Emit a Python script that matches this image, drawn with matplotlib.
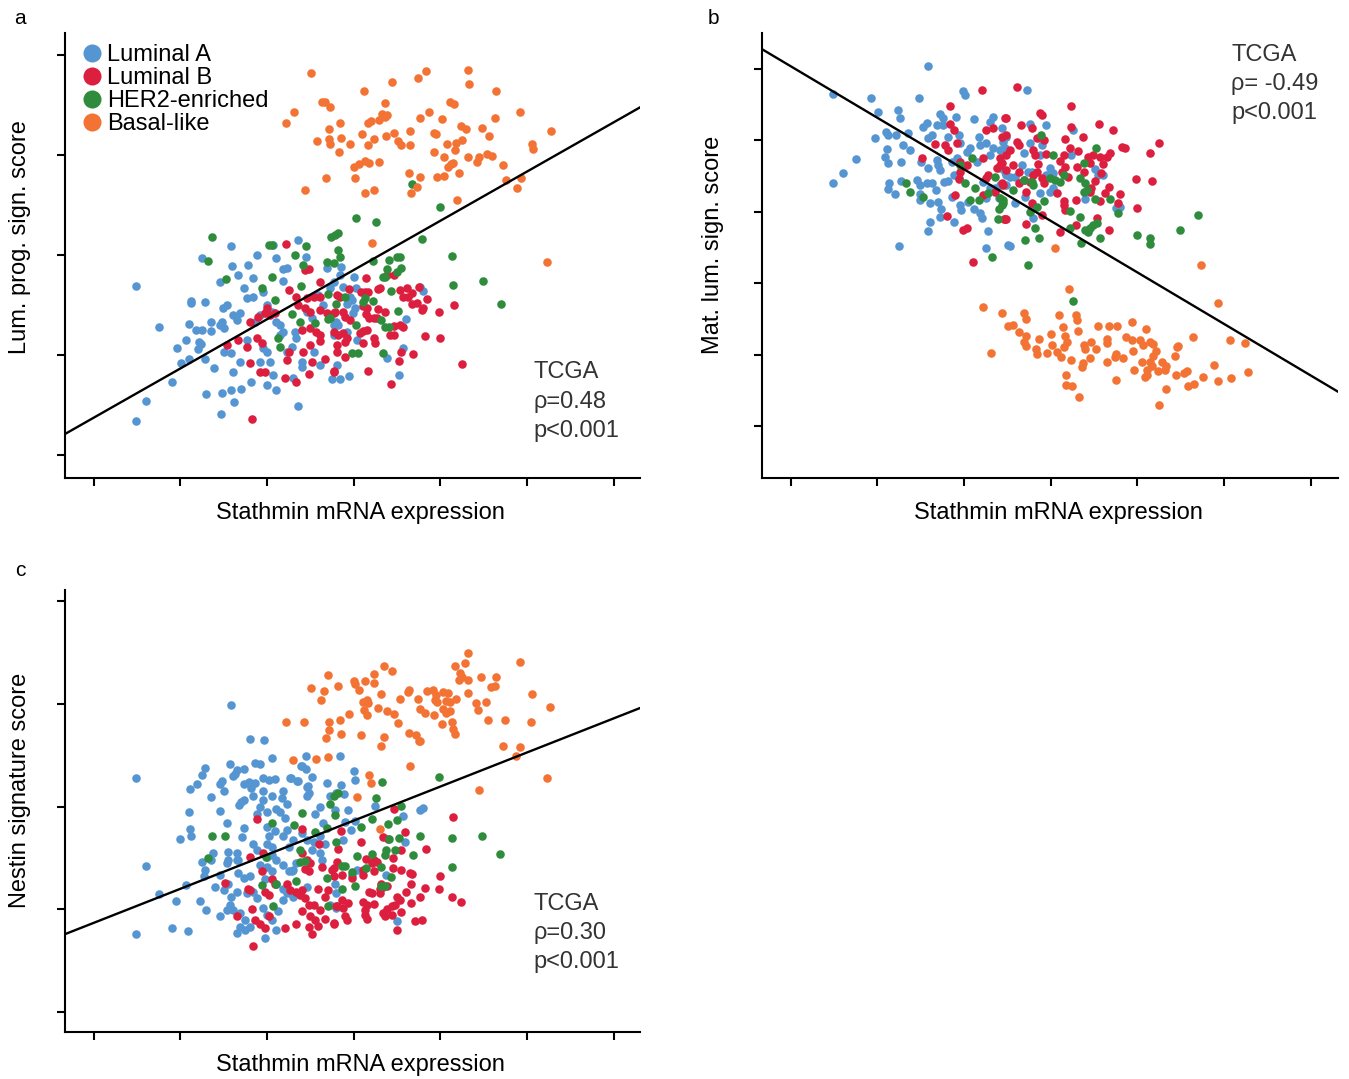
import numpy as np
import matplotlib
matplotlib.use("Agg")
import matplotlib.pyplot as plt
from matplotlib.lines import Line2D

plt.rcParams['font.family'] = ['Liberation Sans', 'DejaVu Sans']

subtypes = ['Luminal A', 'Luminal B', 'HER2-enriched', 'Basal-like']
colors = ['#5596d2', '#dc1e3f', '#2f8c3d', '#f37334']

# ---- a: luminal progenitor signature vs stathmin (x, y) ----
a_luma = [(0.49, 1.69), (0.75, 1.28), (0.91, 0.73), (0.61, 0.54), (0.49, 0.34), (1.01, 0.92), (1.10, 0.96),
          (0.96, 1.07), (1.07, 1.15), (1.10, 1.31), (1.12, 1.52), (1.13, 1.54), (1.29, 1.53), (1.25, 1.97),
          (1.18, 1.25), (1.25, 1.25), (1.22, 1.13), (1.24, 1.11), (1.20, 1.06), (1.29, 0.96), (1.39, 0.87),
          (1.30, 0.61), (1.35, 1.33), (1.36, 1.24), (1.46, 1.30), (1.48, 1.33), (1.50, 1.27), (1.49, 1.47),
          (1.54, 1.50), (1.50, 1.03), (1.46, 1.73), (1.48, 0.62), (1.47, 0.41), (1.58, 0.65), (1.62, 0.53),
          (1.70, 0.66), (1.60, 1.89), (1.67, 1.80), (1.78, 1.90), (1.88, 2.00), (1.58, 2.09), (2.10, 1.97),
          (2.07, 2.10), (2.36, 2.15), (2.19, 1.86), (2.23, 1.87), (2.19, 1.74), (1.84, 1.77), (1.73, 1.67),
          (1.77, 1.57), (1.84, 1.58), (1.96, 1.63), (1.61, 1.40), (1.65, 1.35), (1.69, 1.42), (1.77, 1.15),
          (1.59, 1.02), (1.69, 0.93), (1.61, 0.83), (1.82, 0.73), (1.92, 0.93), (2.04, 0.93), (2.00, 0.70),
          (2.11, 0.65), (2.07, 0.80), (1.96, 1.07), (2.00, 1.03), (2.15, 1.20), (2.19, 1.23), (2.23, 1.03),
          (2.29, 1.08), (2.34, 1.17), (2.32, 1.23), (2.30, 0.77), (2.40, 0.93), (2.41, 0.88), (2.54, 1.03),
          (2.61, 0.90), (2.75, 0.76), (2.84, 0.76), (2.36, 0.49), (2.45, 1.98), (2.69, 1.87), (2.77, 1.73),
          (2.59, 1.60), (2.65, 1.50), (2.46, 1.43), (2.52, 1.37), (2.00, 1.50), (2.06, 1.43), (2.11, 1.33),
          (2.15, 1.30), (1.92, 1.40), (1.86, 1.33), (2.77, 1.20), (2.80, 1.33), (2.86, 1.88), (2.84, 1.80),
          (3.01, 1.78), (2.73, 1.67), (2.88, 1.68), (3.03, 1.67), (2.96, 1.58), (2.98, 1.55), (2.92, 1.51),
          (3.02, 1.47), (2.99, 1.42), (3.76, 1.68), (3.80, 1.64), (3.60, 1.36), (2.77, 1.30), (2.82, 1.30),
          (2.92, 1.23), (3.04, 1.15), (3.57, 1.07), (3.38, 0.97), (2.81, 0.90), (2.95, 0.79), (3.52, 0.80)]
a_lumb = [(2.22, 2.11), (2.44, 1.85), (2.48, 1.86), (2.26, 1.65), (2.61, 1.73), (2.00, 1.47), (1.98, 1.42),
          (2.04, 1.40), (2.09, 1.42), (1.90, 1.38), (1.81, 1.33), (2.34, 1.58), (2.46, 1.57), (2.54, 1.58),
          (2.61, 1.58), (2.36, 1.50), (2.44, 1.47), (2.50, 1.43), (2.61, 1.45), (2.69, 1.42), (2.77, 1.42),
          (2.40, 1.25), (2.50, 1.27), (2.57, 1.23), (2.61, 1.20), (2.77, 1.23), (1.67, 1.15), (1.54, 1.10),
          (1.77, 1.08), (1.88, 1.17), (1.94, 1.12), (2.50, 1.10), (2.61, 1.14), (2.25, 1.03), (2.42, 1.03),
          (1.81, 0.92), (1.92, 0.83), (1.98, 0.83), (2.23, 0.95), (2.52, 0.93), (2.67, 0.96), (2.48, 0.81),
          (2.77, 0.83), (2.21, 0.77), (2.34, 0.73), (1.83, 0.36), (3.14, 1.77), (3.46, 1.80), (3.38, 1.80),
          (2.95, 1.66), (3.09, 1.63), (3.13, 1.63), (3.17, 1.63), (3.28, 1.66), (3.30, 1.67), (2.81, 1.60),
          (2.84, 1.58), (3.53, 1.65), (3.61, 1.67), (3.67, 1.62), (3.63, 1.58), (3.57, 1.58), (3.75, 1.68),
          (3.85, 1.56), (3.67, 1.51), (3.73, 1.52), (3.79, 1.45), (3.80, 1.47), (4.16, 1.50), (3.99, 1.43),
          (3.11, 1.49), (3.16, 1.47), (3.28, 1.46), (3.36, 1.43), (2.79, 1.43), (2.88, 1.43), (2.90, 1.38),
          (3.14, 1.41), (3.18, 1.37), (3.23, 1.37), (3.27, 1.37), (2.96, 1.35), (3.46, 1.29), (3.54, 1.30),
          (3.57, 1.28), (3.07, 1.22), (3.11, 1.24), (3.16, 1.25), (2.82, 1.20), (2.88, 1.22), (2.92, 1.17),
          (3.42, 1.20), (3.46, 1.20), (3.23, 1.17), (3.25, 1.12), (3.11, 1.12), (2.90, 1.13), (2.81, 1.10),
          (2.81, 1.03), (3.82, 1.19), (4.00, 1.17), (3.55, 1.03), (3.68, 1.01), (3.52, 0.94), (2.90, 0.98),
          (3.17, 0.84), (4.25, 0.91), (3.43, 0.71), (2.77, 0.84)]
a_her2 = [(1.37, 2.18), (1.32, 1.94), (1.53, 1.76), (2.02, 2.10), (2.06, 2.10), (2.45, 2.09), (2.32, 2.00),
          (2.42, 1.90), (2.06, 1.78), (1.94, 1.67), (2.39, 1.69), (2.09, 1.55), (2.29, 1.41), (2.38, 1.33),
          (2.56, 1.32), (2.70, 1.36), (2.71, 1.61), (2.80, 1.51), (2.13, 1.17), (2.15, 1.08), (2.74, 2.18),
          (2.79, 2.20), (2.82, 2.22), (2.69, 1.93), (2.77, 1.92), (2.82, 2.05), (2.84, 1.98), (3.79, 2.16),
          (4.14, 1.99), (4.49, 1.74), (4.70, 1.51), (4.15, 1.70), (3.41, 1.95), (3.50, 1.98), (3.53, 1.98),
          (3.38, 1.86), (3.22, 1.94), (3.34, 1.78), (3.36, 1.78), (3.50, 1.83), (3.55, 1.87), (3.43, 1.64),
          (3.22, 1.54), (3.11, 1.53), (3.13, 1.57), (2.90, 1.58), (3.51, 1.44), (3.32, 1.35), (3.36, 1.28),
          (3.41, 1.28), (3.03, 1.30), (2.98, 1.02), (3.05, 1.02), (3.34, 1.02), (2.73, 1.37), (3.67, 2.71),
          (4.00, 2.48), (3.26, 2.33), (3.03, 2.37)]
a_basal = [(2.51, 3.82), (3.84, 3.84), (3.74, 3.77), (4.32, 3.85), (4.33, 3.71), (3.44, 3.73), (3.12, 3.64),
           (4.64, 3.64), (2.64, 3.53), (2.67, 3.53), (2.73, 3.48), (3.36, 3.52), (4.11, 3.53), (4.16, 3.51),
           (2.31, 3.43), (2.22, 3.32), (2.84, 3.32), (3.17, 3.32), (3.20, 3.34), (3.29, 3.35), (3.33, 3.41),
           (3.36, 3.38), (3.39, 3.40), (3.87, 3.43), (3.77, 3.37), (4.02, 3.36), (4.92, 3.43), (4.63, 3.37),
           (2.72, 3.26), (3.10, 3.21), (3.47, 3.22), (3.65, 3.24), (3.37, 3.19), (3.93, 3.22), (3.95, 3.21),
           (4.24, 3.29), (4.30, 3.26), (4.48, 3.27), (5.28, 3.24), (2.58, 3.14), (2.72, 3.16), (2.73, 3.11),
           (2.85, 3.17), (2.96, 3.11), (3.17, 3.10), (3.24, 3.16), (3.51, 3.14), (3.55, 3.10), (3.65, 3.10),
           (4.08, 3.11), (4.18, 3.12), (4.25, 3.15), (4.17, 3.05), (4.56, 3.19), (5.06, 3.11), (5.07, 3.06),
           (2.83, 3.03), (3.93, 3.03), (4.04, 2.98), (4.32, 2.98), (4.45, 2.98), (4.42, 2.93), (4.54, 3.01),
           (4.60, 2.99), (3.00, 2.88), (3.06, 2.91), (3.13, 2.94), (3.18, 2.92), (3.29, 2.93), (4.09, 2.88),
           (4.12, 2.91), (4.15, 2.92), (4.72, 2.90), (2.68, 2.77), (3.02, 2.77), (3.64, 2.82), (3.77, 2.78),
           (3.96, 2.78), (4.04, 2.79), (4.22, 2.82), (4.76, 2.75), (4.93, 2.77), (2.44, 2.65), (3.13, 2.62),
           (3.24, 2.65), (3.66, 2.62), (3.73, 2.68), (4.88, 2.67), (4.19, 2.55), (5.23, 1.93), (3.21, 2.12)]
a_fit = (0.372, 0.4925)   # intercept, slope
a_stats = 'TCGA\nρ=0.48\np<0.001'

# ---- b: mature luminal signature vs stathmin ----
b_luma = [(1.59, 5.04), (0.49, 4.65), (0.93, 4.59), (1.48, 4.60), (1.99, 4.69), (2.01, 4.63), (1.01, 4.40),
          (1.24, 4.42), (1.26, 4.32), (0.97, 4.03), (1.10, 4.12), (1.13, 4.08), (1.22, 4.08), (1.36, 4.10),
          (1.30, 3.94), (1.38, 3.87), (1.11, 3.88), (1.09, 3.77), (1.13, 3.69), (1.28, 3.70), (0.76, 3.74),
          (0.61, 3.55), (0.49, 3.40), (1.14, 3.40), (1.13, 3.32), (1.21, 3.25), (1.28, 3.43), (1.46, 3.45),
          (1.49, 3.38), (1.57, 3.41), (1.63, 3.40), (1.49, 3.25), (1.49, 3.16), (1.68, 3.30), (1.61, 3.12),
          (1.70, 3.14), (1.74, 3.04), (1.53, 4.19), (1.57, 4.24), (1.72, 4.37), (1.76, 4.31), (1.91, 4.33),
          (2.12, 4.30), (1.63, 4.08), (1.59, 4.03), (1.82, 4.05), (1.69, 4.22), (1.76, 4.22), (1.51, 3.70),
          (1.58, 3.62), (1.69, 3.73), (1.70, 3.66), (1.77, 3.42), (1.82, 3.43), (1.72, 3.59), (1.86, 3.70),
          (1.92, 3.75), (1.94, 4.08), (1.95, 3.97), (2.03, 3.84), (2.07, 3.89), (2.17, 4.05), (2.19, 3.94),
          (2.26, 3.96), (2.15, 3.70), (1.88, 3.52), (1.94, 3.47), (1.86, 3.21), (1.95, 3.10), (1.97, 3.03),
          (2.05, 3.14), (2.12, 3.04), (2.19, 2.98), (2.21, 2.91), (1.61, 2.86), (1.72, 2.93), (1.89, 2.86),
          (1.58, 2.73), (2.28, 2.73), (1.25, 2.52), (2.26, 2.50), (2.51, 2.53), (2.22, 3.42), (2.30, 3.33),
          (2.36, 3.33), (2.40, 3.19), (2.26, 3.19), (2.34, 4.33), (2.30, 4.26), (2.44, 4.17), (2.45, 3.98),
          (2.34, 3.89), (2.42, 3.87), (2.49, 3.52), (2.30, 3.80), (2.73, 4.71), (2.76, 4.23), (2.95, 4.21),
          (3.26, 4.15), (2.49, 4.05), (2.76, 3.96), (2.90, 3.94), (2.44, 3.87), (2.47, 3.89), (2.69, 3.82),
          (2.88, 3.80), (3.24, 3.80), (2.42, 3.61), (2.47, 3.56), (2.53, 3.49), (2.59, 3.49), (2.67, 3.66),
          (2.74, 3.56), (2.78, 3.56), (2.99, 3.61), (2.95, 3.52), (3.03, 3.54), (3.51, 3.60), (3.55, 3.52),
          (3.60, 3.52), (2.42, 3.38), (2.49, 3.38), (2.59, 3.12), (2.70, 3.21), (2.88, 3.26), (2.99, 3.28),
          (3.03, 3.33), (2.78, 3.05), (2.80, 2.91), (3.40, 3.18), (3.76, 3.05), (3.80, 3.07), (2.53, 2.52)]
b_lumb = [(2.21, 4.70), (1.84, 4.48), (1.84, 4.23), (1.88, 4.15), (1.67, 3.95), (1.78, 3.93), (1.82, 3.87),
          (1.92, 3.97), (1.52, 3.75), (1.95, 3.70), (2.03, 3.66), (1.95, 3.56), (1.94, 3.46), (2.22, 3.75),
          (2.25, 4.15), (2.34, 4.17), (2.44, 4.05), (2.47, 4.31), (2.49, 4.08), (2.42, 3.75), (2.44, 3.68),
          (2.38, 3.61), (2.28, 3.52), (2.26, 3.47), (2.44, 3.40), (2.49, 3.59), (1.90, 3.23), (2.22, 3.23),
          (2.36, 3.28), (2.47, 2.90), (1.81, 2.94), (1.99, 2.75), (2.03, 2.78), (2.10, 2.30), (2.61, 4.75),
          (3.24, 4.48), (2.88, 4.39), (2.90, 4.35), (2.49, 4.31), (2.66, 4.22), (2.78, 4.17), (3.24, 4.19),
          (3.56, 4.23), (3.72, 4.15), (4.25, 3.96), (3.82, 3.91), (3.86, 3.90), (4.15, 3.82), (2.61, 3.98),
          (2.63, 3.94), (2.84, 4.03), (2.92, 4.01), (3.17, 4.02), (3.37, 4.05), (3.22, 3.89), (3.32, 3.85),
          (2.53, 3.87), (2.49, 3.80), (2.80, 3.87), (2.82, 3.80), (2.95, 3.81), (3.15, 3.79), (3.11, 3.71),
          (3.43, 3.77), (3.49, 3.80), (3.57, 3.77), (3.65, 3.77), (3.69, 3.83), (3.45, 3.68), (3.61, 3.67),
          (2.42, 3.66), (2.57, 3.66), (2.63, 3.56), (2.86, 3.67), (3.17, 3.63), (3.13, 3.56), (3.30, 3.63),
          (3.38, 3.56), (3.58, 3.54), (2.80, 3.52), (2.84, 3.56), (2.69, 3.45), (2.76, 3.42), (2.90, 3.47),
          (2.92, 3.40), (3.20, 3.49), (2.63, 3.40), (3.99, 3.46), (4.17, 3.43), (2.45, 3.38), (2.72, 3.28),
          (3.07, 3.26), (3.51, 3.43), (3.47, 3.33), (3.45, 3.28), (3.67, 3.35), (3.63, 3.27), (3.80, 3.25),
          (3.78, 3.12), (3.29, 3.17), (3.15, 3.15), (3.15, 3.09), (3.57, 3.15), (2.78, 3.12), (3.17, 3.03),
          (4.00, 3.06), (2.90, 2.96), (2.46, 2.90), (2.49, 2.90), (2.72, 2.83), (3.53, 2.91), (3.29, 2.81),
          (3.67, 2.75), (3.11, 2.72)]
b_her2 = [(1.33, 3.40), (1.38, 3.28), (1.53, 3.21), (1.95, 3.66), (2.09, 3.75), (2.01, 3.41), (2.13, 3.34),
          (2.07, 3.17), (2.17, 3.16), (2.36, 3.49), (2.28, 3.26), (2.42, 3.19), (2.45, 3.12), (2.40, 3.04),
          (2.39, 2.90), (2.32, 2.36), (2.89, 4.07), (3.03, 3.79), (3.52, 3.90), (3.38, 3.68), (2.99, 3.47),
          (3.05, 3.45), (3.11, 3.42), (3.15, 3.52), (2.69, 3.45), (2.78, 3.42), (2.80, 3.38), (3.34, 3.47),
          (3.40, 3.40), (3.42, 3.31), (3.38, 3.28), (2.92, 3.15), (2.57, 3.31), (3.51, 3.18), (3.69, 3.18),
          (2.45, 3.17), (2.44, 3.10), (2.84, 3.07), (2.76, 3.00), (3.22, 3.01), (3.78, 2.99), (3.34, 2.93),
          (4.70, 2.96), (3.49, 2.82), (3.53, 2.84), (3.45, 2.78), (3.40, 2.75), (3.43, 2.72), (3.22, 2.77),
          (2.82, 2.77), (2.87, 2.63), (2.71, 2.61), (3.57, 2.64), (3.35, 2.56), (4.00, 2.68), (4.15, 2.63),
          (4.15, 2.55), (4.49, 2.75), (2.74, 2.25), (3.26, 1.75)]
b_basal = [(3.05, 2.50), (4.73, 2.26), (3.21, 1.92), (2.22, 1.67), (2.44, 1.58), (2.69, 1.58), (2.72, 1.50),
           (3.10, 1.56), (3.29, 1.55), (3.31, 1.48), (4.93, 1.72), (2.51, 1.40), (2.57, 1.41), (2.63, 1.32),
           (3.14, 1.39), (3.32, 1.33), (3.55, 1.40), (3.67, 1.40), (3.77, 1.40), (3.94, 1.45), (4.10, 1.36),
           (2.72, 1.26), (2.69, 1.18), (2.72, 1.12), (2.87, 1.22), (3.00, 1.29), (3.17, 1.26), (3.19, 1.17),
           (3.15, 1.11), (3.02, 1.13), (2.83, 1.08), (2.84, 1.01), (2.96, 1.02), (3.07, 1.03), (3.12, 0.97),
           (3.24, 0.93), (2.31, 1.02), (3.38, 1.13), (3.40, 1.08), (3.47, 1.17), (3.52, 1.08), (3.65, 1.22),
           (3.65, 1.16), (3.45, 0.95), (3.37, 0.88), (3.36, 0.82), (3.65, 0.90), (3.74, 0.97), (3.76, 1.01),
           (3.84, 0.95), (3.87, 1.24), (3.94, 1.20), (4.03, 1.21), (4.06, 1.13), (3.95, 1.05), (4.15, 1.18),
           (4.18, 1.15), (4.22, 1.05), (4.18, 0.98), (4.15, 0.90), (4.17, 0.84), (4.05, 0.90), (3.96, 0.78),
           (4.11, 0.78), (4.09, 0.69), (4.11, 0.72), (4.24, 0.77), (4.29, 0.89), (4.33, 0.84), (4.32, 0.78),
           (4.43, 0.98), (4.47, 1.12), (4.46, 1.10), (4.64, 1.24), (4.45, 0.71), (4.54, 0.74), (4.57, 0.77),
           (4.76, 0.68), (4.88, 0.86), (4.93, 0.63), (5.07, 1.20), (5.24, 1.16), (5.08, 0.67), (5.28, 0.75),
           (4.59, 0.56), (4.65, 0.59), (4.33, 0.52), (4.25, 0.29), (3.75, 0.64), (3.18, 0.72), (3.18, 0.57),
           (3.25, 0.56), (3.33, 0.40)]
b_fit = (5.04, -0.722)
b_stats = 'TCGA\nρ= -0.49\np<0.001'

# ---- c: nestin signature vs stathmin ----
c_luma = [(2.45, 2.49), (2.39, 2.40), (2.84, 2.49), (2.28, 2.28), (2.36, 2.25), (2.52, 2.29), (2.47, 2.20),
          (2.69, 2.23), (2.85, 2.21), (3.00, 2.35), (3.02, 2.26), (1.59, 2.99), (0.49, 2.28), (1.80, 2.66),
          (1.97, 2.65), (2.06, 2.47), (1.57, 2.41), (1.66, 2.36), (1.74, 2.37), (1.63, 2.32), (1.61, 2.30),
          (1.86, 2.42), (1.92, 2.41), (1.28, 2.38), (1.25, 2.31), (1.19, 2.22), (1.11, 2.17), (1.48, 2.25),
          (1.46, 2.22), (1.50, 2.15), (1.73, 2.22), (1.79, 2.24), (1.86, 2.23), (1.82, 2.18), (1.96, 2.28),
          (2.02, 2.26), (2.09, 2.27), (2.27, 2.28), (2.35, 2.25), (2.45, 2.37), (2.41, 2.40), (2.46, 2.19),
          (2.48, 2.13), (2.46, 2.10), (2.19, 2.15), (2.17, 2.08), (2.23, 2.03), (2.06, 2.10), (1.95, 2.15),
          (1.96, 2.06), (1.84, 2.10), (1.36, 2.09), (1.46, 1.96), (1.54, 1.84), (1.68, 2.02), (1.73, 2.06),
          (1.70, 2.04), (1.92, 2.00), (1.88, 1.93), (2.00, 1.95), (2.11, 1.98), (2.15, 1.95), (2.21, 1.89),
          (1.10, 1.95), (1.11, 1.78), (1.12, 1.71), (1.00, 1.68), (1.73, 1.79), (1.71, 1.70), (1.65, 1.55),
          (1.67, 1.48), (2.00, 1.80), (2.02, 1.71), (2.00, 1.64), (2.06, 1.61), (2.09, 1.76), (1.84, 1.64),
          (1.88, 1.58), (2.23, 1.77), (2.19, 1.71), (2.30, 1.67), (2.25, 1.61), (2.54, 1.66), (2.61, 1.71),
          (2.52, 1.58), (2.61, 2.00), (2.55, 1.93), (2.65, 1.84), (2.40, 1.74), (2.46, 1.67), (2.67, 1.64),
          (2.61, 1.55), (2.63, 1.48), (1.55, 1.56), (1.55, 1.48), (1.65, 1.48), (1.38, 1.55), (1.36, 1.48),
          (1.25, 1.46), (1.29, 1.38), (1.27, 1.32), (1.46, 1.33), (1.54, 1.45), (1.67, 1.35), (1.73, 1.30),
          (1.80, 1.32), (1.92, 1.43), (2.00, 1.41), (2.06, 1.37), (2.11, 1.48), (2.19, 1.43), (2.25, 1.37),
          (2.30, 1.38), (1.98, 1.29), (2.11, 1.25), (2.19, 1.20), (2.00, 1.51), (2.06, 1.53), (2.34, 1.45),
          (2.29, 1.37), (1.40, 1.22), (1.50, 1.19), (1.55, 1.25), (1.65, 1.17), (1.59, 1.12), (1.77, 1.16),
          (1.84, 1.17), (1.88, 1.11), (2.23, 1.16), (2.19, 1.09), (2.30, 1.12), (1.07, 1.24), (1.23, 1.08),
          (1.30, 0.99), (1.46, 0.93), (1.57, 1.04), (1.54, 0.99), (1.61, 0.99), (1.69, 0.96), (1.75, 0.90),
          (1.80, 0.83), (1.96, 1.01), (2.00, 0.94), (2.06, 0.90), (2.13, 0.98), (2.11, 0.80), (1.69, 0.83),
          (1.75, 0.80), (1.65, 0.77), (1.98, 0.72), (0.75, 1.15), (0.95, 1.08), (0.91, 0.82), (1.09, 0.79),
          (0.60, 1.42), (0.49, 0.76), (2.38, 1.16), (2.46, 1.22), (2.89, 2.12), (2.73, 2.10), (2.80, 2.13),
          (2.79, 1.97), (2.93, 1.97), (3.02, 1.86), (2.97, 1.77), (2.90, 1.85), (2.88, 1.67), (3.25, 2.01),
          (3.76, 1.97), (3.80, 1.99), (3.57, 1.91), (3.59, 1.66), (3.04, 1.38), (3.37, 1.33), (2.79, 1.25),
          (2.80, 1.16), (2.73, 1.04), (2.80, 1.01), (3.50, 0.89), (2.98, 1.33)]
c_lumb = [(1.88, 1.88), (2.41, 1.78), (2.60, 1.64), (1.81, 1.51), (1.96, 1.55), (1.94, 1.37), (2.06, 1.29),
          (2.09, 1.25), (2.41, 1.55), (2.46, 1.48), (2.50, 1.45), (2.44, 1.39), (2.48, 1.37), (2.63, 1.41),
          (2.75, 1.38), (1.52, 1.26), (1.78, 1.20), (1.81, 1.19), (1.98, 1.17), (2.02, 1.14), (2.23, 1.25),
          (2.27, 1.19), (2.34, 1.17), (2.40, 1.19), (2.59, 1.20), (2.71, 1.19), (2.67, 1.12), (2.38, 1.14),
          (2.44, 1.11), (1.83, 1.00), (1.65, 0.93), (1.86, 0.90), (1.92, 0.86), (1.98, 0.82), (2.02, 0.93),
          (2.21, 0.82), (2.34, 0.86), (2.48, 1.04), (2.54, 1.04), (2.61, 0.99), (2.40, 0.98), (2.50, 0.93),
          (2.55, 0.90), (2.67, 0.91), (2.77, 0.86), (2.48, 0.83), (2.59, 0.84), (2.52, 0.76), (1.84, 0.64),
          (2.81, 1.03), (3.46, 1.98), (2.85, 1.76), (3.09, 1.66), (3.34, 1.70), (3.40, 1.68), (3.59, 1.75),
          (3.55, 1.58), (3.84, 1.59), (4.15, 1.90), (2.82, 1.59), (3.14, 1.49), (3.23, 1.48), (3.27, 1.46),
          (3.21, 1.45), (3.45, 1.50), (2.81, 1.46), (2.77, 1.40), (3.11, 1.38), (3.23, 1.37), (3.11, 1.33),
          (3.45, 1.40), (3.55, 1.38), (3.65, 1.35), (3.67, 1.34), (2.87, 1.33), (2.77, 1.32), (4.00, 1.32),
          (2.98, 1.30), (3.32, 1.25), (3.34, 1.22), (3.38, 1.23), (3.66, 1.25), (3.82, 1.21), (3.98, 1.20),
          (3.18, 1.17), (3.21, 1.16), (3.30, 1.16), (3.30, 1.20), (3.60, 1.17), (3.77, 1.12), (4.14, 1.12),
          (4.24, 1.07), (2.87, 1.09), (2.94, 1.06), (2.88, 1.01), (2.80, 1.03), (3.11, 1.07), (3.15, 1.04),
          (3.13, 0.99), (3.24, 1.05), (3.50, 1.12), (3.53, 1.09), (3.48, 1.04), (3.44, 1.03), (3.38, 1.00),
          (3.34, 0.96), (3.66, 1.06), (3.55, 0.97), (3.13, 0.94), (3.15, 0.91), (2.90, 0.93), (2.92, 0.90),
          (2.77, 0.87), (3.36, 0.93), (3.44, 0.94), (3.71, 0.89), (3.79, 0.90), (3.50, 0.80)]
c_her2 = [(3.33, 2.24), (3.98, 2.29), (1.37, 1.71), (1.52, 1.71), (1.32, 1.50), (2.06, 1.84), (2.40, 1.94),
          (2.31, 1.82), (1.99, 1.51), (2.38, 1.58), (2.38, 1.46), (2.44, 1.47), (2.55, 1.75), (2.11, 1.25),
          (1.94, 1.24), (2.34, 1.28), (2.07, 1.03), (2.69, 1.30), (2.70, 1.03), (2.77, 2.10), (2.82, 2.13),
          (2.73, 2.03), (2.79, 1.92), (2.69, 1.79), (3.26, 2.08), (3.55, 2.01), (3.21, 1.88), (3.09, 1.80),
          (3.40, 1.83), (3.50, 1.87), (3.77, 1.71), (4.14, 1.69), (4.48, 1.71), (4.69, 1.54), (4.14, 1.41),
          (3.41, 1.68), (3.52, 1.69), (2.80, 1.66), (3.37, 1.58), (3.48, 1.58), (3.04, 1.52), (3.21, 1.54),
          (3.36, 1.53), (3.68, 1.53), (2.87, 1.42), (2.90, 1.42), (3.14, 1.40), (3.32, 1.41), (2.98, 1.36),
          (3.43, 1.31), (3.32, 1.23), (3.36, 1.23), (3.02, 1.23), (2.87, 1.20)]
c_basal = [(4.32, 3.50), (4.92, 3.41), (4.17, 3.37), (4.28, 3.40), (3.35, 3.37), (3.44, 3.32), (2.71, 3.28),
           (4.23, 3.30), (4.25, 3.26), (4.22, 3.23), (4.32, 3.23), (4.47, 3.26), (4.64, 3.26), (3.23, 3.29),
           (3.00, 3.22), (3.02, 3.19), (3.06, 3.14), (3.13, 3.22), (3.24, 3.20), (2.82, 3.17), (2.51, 3.15),
           (2.66, 3.13), (4.58, 3.16), (4.63, 3.17), (5.06, 3.10), (3.64, 3.14), (3.63, 3.12), (3.32, 3.10),
           (3.85, 3.13), (3.92, 3.14), (3.95, 3.09), (4.03, 3.12), (4.09, 3.11), (4.32, 3.11), (2.62, 3.04),
           (3.54, 3.05), (3.74, 3.05), (3.11, 3.02), (3.16, 3.04), (3.17, 3.01), (3.94, 3.04), (3.96, 3.02),
           (4.07, 3.03), (4.11, 3.02), (4.18, 3.05), (4.41, 3.01), (4.53, 3.02), (5.27, 2.97), (3.28, 2.96),
           (3.12, 2.94), (3.16, 2.89), (3.38, 2.93), (3.46, 2.90), (3.76, 2.95), (3.82, 2.91), (4.03, 2.95),
           (4.11, 2.93), (4.07, 2.91), (3.93, 2.89), (4.44, 2.94), (2.95, 2.90), (2.22, 2.82), (2.43, 2.82),
           (2.72, 2.82), (2.84, 2.84), (3.51, 2.81), (4.02, 2.80), (4.14, 2.82), (4.55, 2.84), (4.75, 2.84),
           (5.05, 2.82), (2.72, 2.75), (2.85, 2.71), (2.68, 2.67), (3.09, 2.70), (3.35, 2.68), (3.64, 2.72),
           (3.72, 2.70), (3.76, 2.64), (4.15, 2.76), (4.17, 2.71), (3.31, 2.59), (4.72, 2.59), (4.92, 2.58),
           (4.87, 2.49), (2.30, 2.45), (2.57, 2.46), (2.71, 2.48), (3.65, 2.40), (3.18, 2.31), (3.20, 2.23),
           (5.23, 2.28), (4.45, 2.16), (3.75, 2.64), (3.04, 2.09), (3.30, 1.78)]
c_fit = (0.867, 0.332)
c_stats = 'TCGA\nρ=0.30\np<0.001'

W, H = 1349, 1079
fig = plt.figure(figsize=(W / 100, H / 100), dpi=100)


def px_rect(l, t, r, b):
    return [l / W, 1 - b / H, (r - l) / W, (b - t) / H]


def panel(rect, groups, fit, xlim, ylim, nyticks, stats, stats_y):
    ax = fig.add_axes(rect)
    for pts, col in zip(groups, colors):
        pts = np.array(pts)
        ax.scatter(pts[:, 0], pts[:, 1], s=38, c=col, linewidths=0, zorder=2)
    xs = np.array(xlim)
    ax.plot(xs, fit[0] + fit[1] * xs, color='black', lw=1.7, zorder=3)
    ax.set_xlim(xlim)
    ax.set_ylim(ylim)
    ax.set_xticks(range(7))
    ax.set_yticks(range(nyticks))
    ax.set_xticklabels([])
    ax.set_yticklabels([])
    for s in ['top', 'right']:
        ax.spines[s].set_visible(False)
    for s in ['left', 'bottom']:
        ax.spines[s].set_linewidth(1.5)
    ax.tick_params(direction='out', length=5.5, width=1.5)
    ax.text(0.815, stats_y, stats, transform=ax.transAxes, ha='left', va='top',
            fontsize=17, color='#333333', linespacing=1.43)
    return ax


ax_a = panel(px_rect(65, 33, 640, 478), [a_luma, a_lumb, a_her2, a_basal], a_fit,
             (-0.329, 6.303), (-0.23, 4.22), 5, a_stats, 0.262)
ax_b = panel(px_rect(762, 33, 1338, 478), [b_luma, b_lumb, b_her2, b_basal], b_fit,
             (-0.329, 6.315), (-0.728, 5.504), 6, b_stats, 0.976)
ax_c = panel(px_rect(65, 590, 640, 1032), [c_luma, c_lumb, c_her2, c_basal], c_fit,
             (-0.329, 6.303), (-0.195, 4.109), 5, c_stats, 0.315)

# axis titles and panel letters
def ftext(x, y, s, **kw):
    fig.text(x / W, 1 - y / H, s, ha='center', va='center', **kw)

ftext(360, 513, 'Stathmin mRNA expression', fontsize=17)
ftext(1058, 513, 'Stathmin mRNA expression', fontsize=17)
ftext(360, 1065, 'Stathmin mRNA expression', fontsize=17)
ftext(20, 237, 'Lum. prog. sign. score', fontsize=17, rotation=90)
ftext(713, 245, 'Mat. lum. sign. score', fontsize=17, rotation=90)
ftext(20, 790, 'Nestin signature score', fontsize=17, rotation=90)
ftext(20, 19, 'a', fontsize=15)
ftext(713, 19, 'b', fontsize=15)
ftext(20, 570, 'c', fontsize=15)

handles = [Line2D([], [], marker='o', linestyle='none', markersize=13, markeredgewidth=0,
                  markerfacecolor=c, label=t) for t, c in zip(subtypes, colors)]
fig.legend(handles=handles, loc='upper left', bbox_to_anchor=(83 / W, 1 - 44 / H),
           frameon=False, fontsize=17, handlelength=0.76, handletextpad=0.25,
           labelspacing=0.04, borderpad=0, borderaxespad=0)

fig.savefig('out.png', dpi=100)
